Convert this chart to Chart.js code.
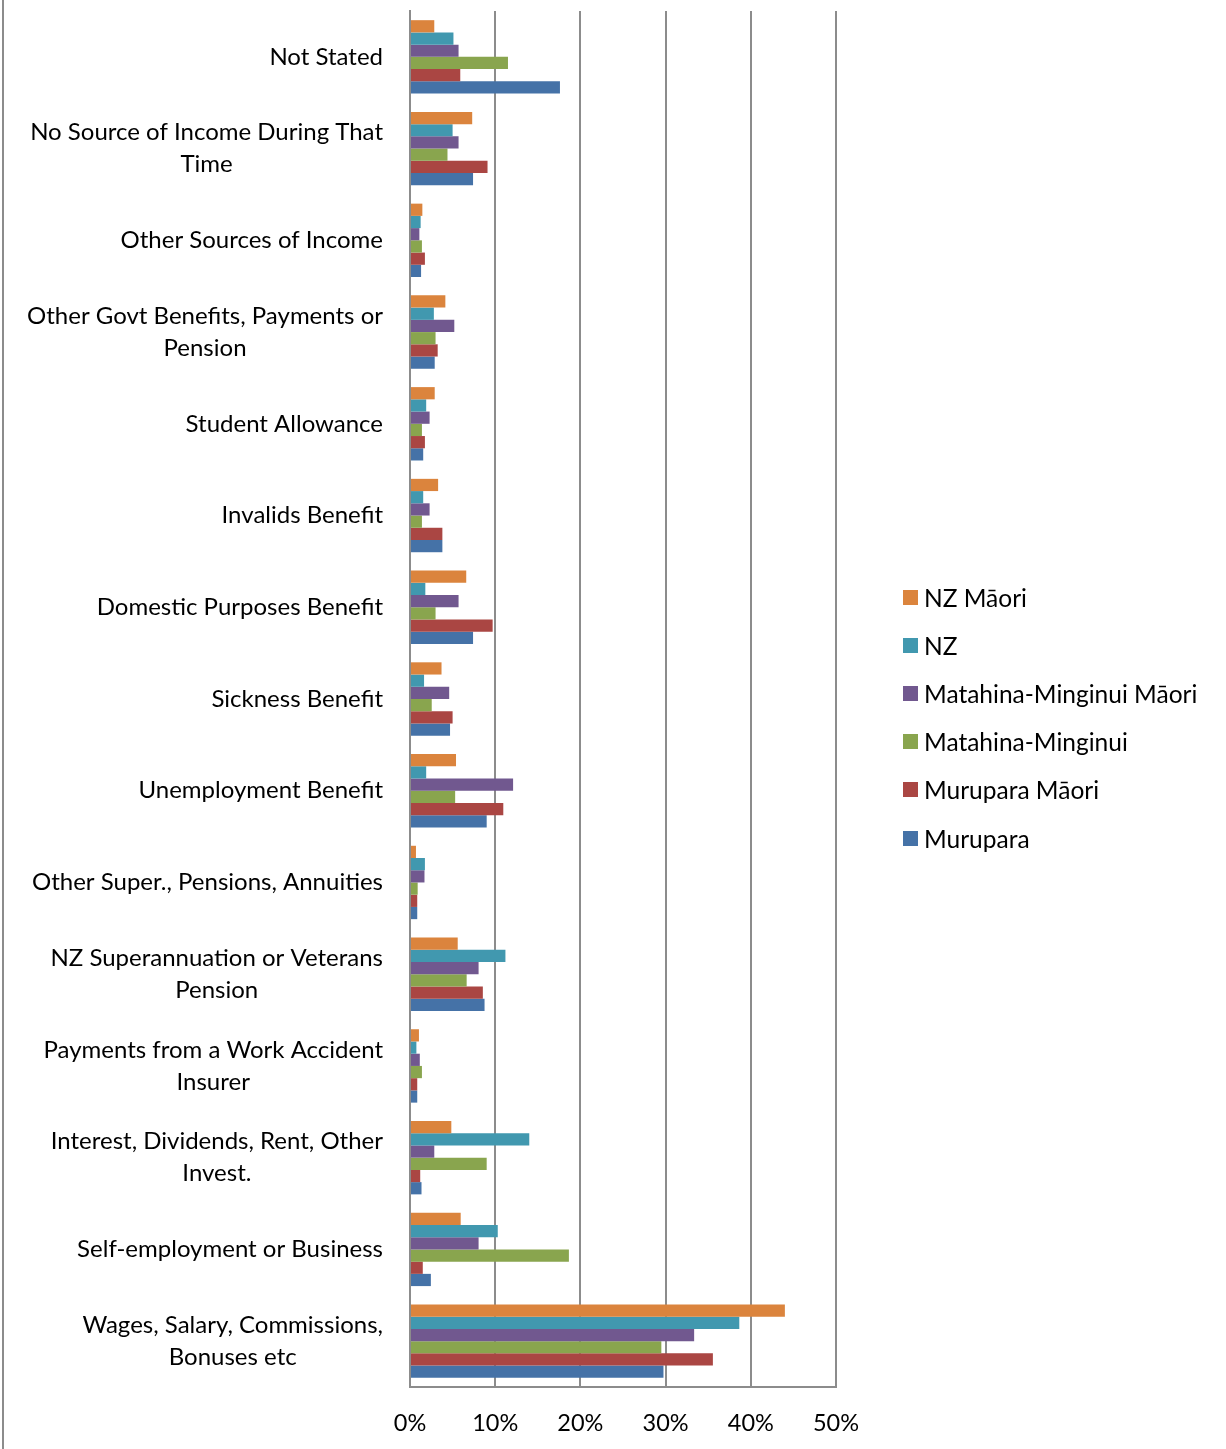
<!DOCTYPE html>
<html>
<head>
<meta charset="utf-8">
<script src="https://cdn.jsdelivr.net/npm/chart.js@4.4.0/dist/chart.umd.min.js"></script>
<style>
    body { margin: 0; background: #fff; }
    #wrap { position: relative; width: 1226px; height: 1449px; }
    #borda { position: absolute; left: 2px; top: 0; width: 2px; height: 1449px; background: #8c8c8c; }
    #legenda { position: absolute; left: 903px; top: 573px; font-family: Lato, sans-serif; font-size: 24.5px; color: #000; }
    .item { height: 48.2px; display: flex; align-items: center; }
    .caixa { width: 15px; height: 15px; margin-right: 6px; }
</style>
</head>
<body>
<div id="wrap">
    <canvas id="grafico" width="1226" height="1449"></canvas>
    <div id="borda"></div>
    <div id="legenda"></div>
</div>
<script>
// ======== DADOS ========
const categorias = [
    "Not Stated",
    ["No Source of Income During That", "Time"],
    "Other Sources of Income",
    ["Other Govt Benefits, Payments or", "Pension"],
    "Student Allowance",
    "Invalids Benefit",
    "Domestic Purposes Benefit",
    "Sickness Benefit",
    "Unemployment Benefit",
    "Other Super., Pensions, Annuities",
    ["NZ Superannuation or Veterans", "Pension"],
    ["Payments from a Work Accident", "Insurer"],
    ["Interest, Dividends, Rent, Other", "Invest."],
    "Self-employment or Business",
    ["Wages, Salary, Commissions,", "Bonuses etc"]
];

const nzMaori       = [2.85, 7.3, 1.45, 4.15, 2.9, 3.3, 6.6, 3.7, 5.4, 0.7, 5.6, 1.05, 4.85, 5.95, 44.0];
const nz            = [5.1, 5.0, 1.25, 2.8, 1.9, 1.55, 1.8, 1.65, 1.9, 1.75, 11.2, 0.75, 14.0, 10.3, 38.65];
const matahinaMaori = [5.7, 5.7, 1.1, 5.2, 2.3, 2.3, 5.7, 4.6, 12.1, 1.7, 8.05, 1.15, 2.85, 8.05, 33.35];
const matahina      = [11.5, 4.4, 1.4, 3.0, 1.4, 1.4, 3.0, 2.55, 5.3, 0.9, 6.65, 1.4, 9.0, 18.65, 29.5];
const muruparaMaori = [5.9, 9.1, 1.75, 3.25, 1.75, 3.8, 9.7, 5.0, 10.95, 0.85, 8.55, 0.85, 1.2, 1.5, 35.55];
const murupara      = [17.6, 7.4, 1.3, 2.9, 1.55, 3.8, 7.4, 4.7, 9.0, 0.85, 8.75, 0.85, 1.35, 2.45, 29.75];

const nomesSeries = ["NZ Māori", "NZ", "Matahina-Minginui Māori", "Matahina-Minginui", "Murupara Māori", "Murupara"];
const valoresSeries = [nzMaori, nz, matahinaMaori, matahina, muruparaMaori, murupara];
const cores = ["#DB843D", "#4198AF", "#71588F", "#89A54E", "#AA4643", "#4572A7"];

const ticksX = [0, 10, 20, 30, 40, 50];

const fonte = "Lato, sans-serif";

// ======== RÓTULOS DO EIXO Y (bloco alinhado à direita, linhas centradas) ========
const rotulosY = {
    id: "rotulosY",
    afterDraw(chart) {
        const ctx = chart.ctx;
        const escala = chart.scales.y;
        ctx.save();
        ctx.font = "24px " + fonte;
        ctx.fillStyle = "#000";
        ctx.textAlign = "center";
        ctx.textBaseline = "middle";
        categorias.forEach((rot, i) => {
            const linhas = Array.isArray(rot) ? rot : [rot];
            const larg = Math.max(...linhas.map(l => ctx.measureText(l).width));
            const cx = 383 - larg / 2;
            const yc = escala.getPixelForTick(i);
            const alt = 32;
            linhas.forEach((l, k) => {
                ctx.fillText(l, cx, yc + (k - (linhas.length - 1) / 2) * alt);
            });
        });
        ctx.restore();
    }
};

// ======== GRÁFICO ========
new Chart(document.getElementById("grafico").getContext("2d"), {
    type: "bar",
    data: {
        labels: categorias,
        datasets: nomesSeries.map((nome, i) => ({
            label: nome,
            data: valoresSeries[i],
            backgroundColor: cores[i],
            borderWidth: 0,
            categoryPercentage: 0.8,
            barPercentage: 1.0
        }))
    },
    options: {
        indexAxis: "y",
        responsive: false,
        animation: false,
        layout: { padding: { top: 11, right: 390, left: 0, bottom: 0 } },
        scales: {
            x: {
                min: 0,
                max: 50,
                afterBuildTicks: s => { s.ticks = ticksX.map(v => ({ value: v })); },
                afterFit: s => { s.height = 62; },
                grid: { color: "#8c8c8c", lineWidth: 2, drawTicks: false },
                border: { color: "#8c8c8c", width: 2 },
                ticks: {
                    color: "#000",
                    padding: 22,
                    font: { family: fonte, size: 23.5 },
                    callback: v => v + "%"
                }
            },
            y: {
                afterFit: s => { s.width = 410; },
                grid: { display: false },
                border: { color: "#8c8c8c", width: 2 },
                ticks: { display: false }
            }
        },
        plugins: {
            legend: { display: false },
            tooltip: { enabled: false }
        }
    },
    plugins: [rotulosY]
});

// ======== LEGENDA ========
const legenda = document.getElementById("legenda");
nomesSeries.forEach((nome, i) => {
    legenda.innerHTML += `<div class="item"><div class="caixa" style="background:${cores[i]}"></div>${nome}</div>`;
});
</script>
</body>
</html>
